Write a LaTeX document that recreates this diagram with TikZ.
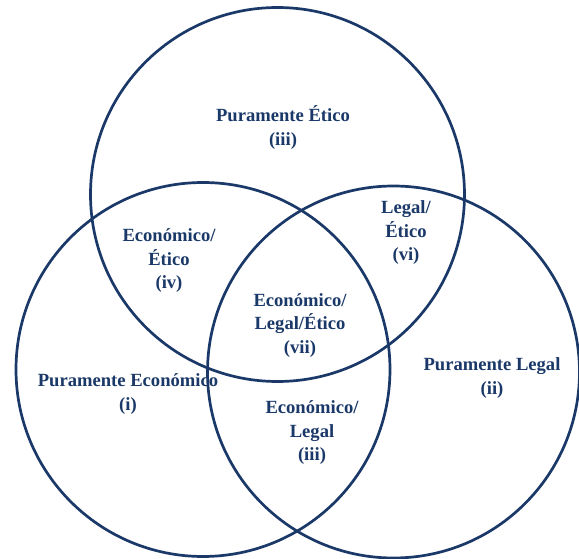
\documentclass[tikz,border=0pt]{standalone}
\usepackage{fontspec}
\setmainfont{Liberation Serif}
\definecolor{navy}{RGB}{26,56,104}
\begin{document}
\begin{tikzpicture}[x=1pt,y=-1pt,
  ring/.style={draw=navy,line width=2.7pt},
  lab/.style={text=navy,font=\fontsize{18.6}{23.5}\selectfont\bfseries,align=center,inner sep=0pt}]
\useasboundingbox (0,0) rectangle (579,559);
\draw[ring] (277.5,194.5) circle[radius=187pt];
\draw[ring] (203,369.5) circle[radius=187pt];
\draw[ring] (393.5,372) circle[radius=186pt];
\node[lab] (etico) at (283,127.5) {Puramente Ético\\(iii)};
\node[lab] (econetico) at (169,261) {Económico/\\Ético\\(iv)};
\node[lab] (todos) at (300,325.5) {Económico/\\Legal/Ético\\(vii)};
\node[lab] (legaletico) at (406,233) {Legal/\\Ético\\(vi)};
\node[lab] (legal) at (492,378) {Puramente Legal\\(ii)};
\node[lab] (econ) at (128,394) {Puramente Económico\\(i)};
\node[lab] (econlegal) at (312,433) {Económico/\\Legal\\(iii)};
\end{tikzpicture}
\end{document}
